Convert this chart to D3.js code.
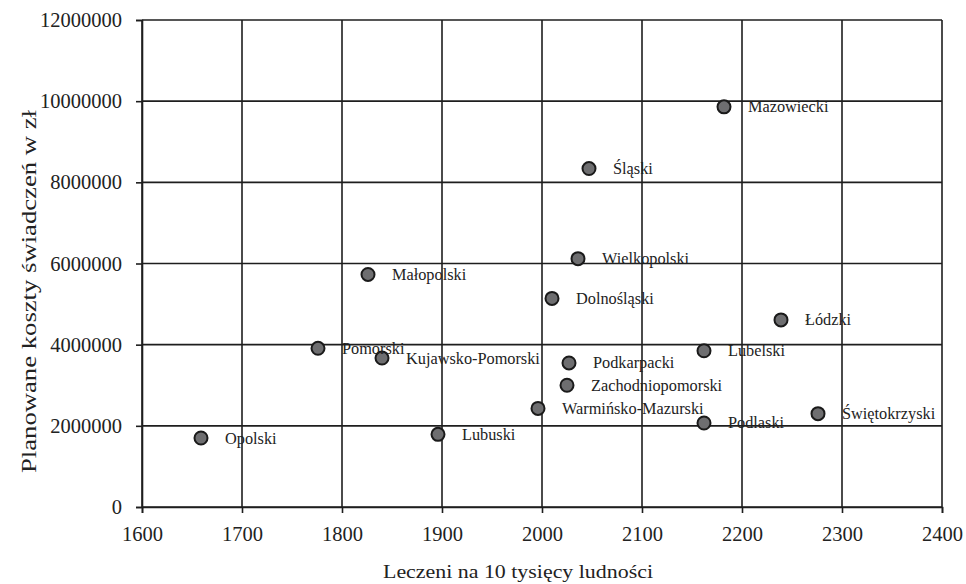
<!DOCTYPE html>
<html>
<head>
<meta charset="utf-8">
<script src="https://cdn.jsdelivr.net/npm/d3@7"></script>
<style>
  html, body { margin: 0; padding: 0; background: #fff; }
  svg { display: block; font-family: "Liberation Serif", "Times New Roman", serif; }
</style>
</head>
<body>
<svg id="chart" width="966" height="584"></svg>
<script>
const regions = ["Mazowiecki", "Śląski", "Wielkopolski", "Małopolski", "Dolnośląski", "Pomorski",
  "Kujawsko-Pomorski", "Podkarpacki", "Zachodniopomorski", "Warmińsko-Mazurski", "Lubuski",
  "Lubelski", "Podlaski", "Łódzki", "Świętokrzyski", "Opolski"];
const leczeni = [2182, 2047, 2036, 1826, 2010, 1776, 1840, 2027, 2025, 1996, 1896, 2162, 2162, 2239, 2276, 1659];
const koszty = [9860000, 8340000, 6120000, 5730000, 5140000, 3910000, 3670000, 3550000, 3000000, 2430000, 1790000, 3850000, 2070000, 4610000, 2300000, 1700000];
const xTicks = [1600, 1700, 1800, 1900, 2000, 2100, 2200, 2300, 2400];
const yTicks = [0, 2000000, 4000000, 6000000, 8000000, 10000000, 12000000];
const xTitle = "Leczeni na 10 tysięcy ludności";
const yTitle = "Planowane koszty świadczeń w zł";

const svg = d3.select("#chart");
const x = d3.scaleLinear().domain([1600, 2400]).range([142, 942]);
const y = d3.scaleLinear().domain([0, 12000000]).range([507, 20]);
const ink = "#1e1e1e";

// grid
const grid = svg.append("g");
grid.selectAll("line.v").data(xTicks).join("line")
  .attr("x1", d => x(d)).attr("x2", d => x(d))
  .attr("y1", y(12000000)).attr("y2", y(0))
  .attr("stroke", ink).attr("stroke-width", 1.6);
grid.selectAll("line.h").data(yTicks).join("line")
  .attr("x1", x(1600)).attr("x2", x(2400))
  .attr("y1", d => y(d)).attr("y2", d => y(d))
  .attr("stroke", ink).attr("stroke-width", 1.6);

// axes
const xAxis = svg.append("g").attr("transform", `translate(0,${y(0)})`)
  .call(d3.axisBottom(x).tickValues(xTicks).tickFormat(d3.format("d")).tickSize(6).tickPadding(13));
const yAxis = svg.append("g").attr("transform", `translate(${x(1600)},0)`)
  .call(d3.axisLeft(y).tickValues(yTicks).tickFormat(d3.format("d")).tickSize(6).tickPadding(14));
[xAxis, yAxis].forEach(a => {
  a.select(".domain").attr("stroke", ink).attr("stroke-width", 1.6);
  a.selectAll(".tick line").attr("stroke", ink).attr("stroke-width", 1.6);
  a.selectAll(".tick text").attr("fill", "#222").style("font-size", "20.5px")
    .style("font-family", "'Liberation Serif', serif");
});

// points
const data = regions.map((r, i) => ({ name: r, x: leczeni[i], y: koszty[i] }));
svg.append("g").selectAll("circle").data(data).join("circle")
  .attr("cx", d => x(d.x)).attr("cy", d => y(d.y)).attr("r", 6.5)
  .attr("fill", "#6e6e70").attr("stroke", "#1a1a1a").attr("stroke-width", 2);

svg.append("g").selectAll("text").data(data).join("text")
  .attr("x", d => x(d.x) + 24).attr("y", d => y(d.y) + 5.5)
  .attr("fill", "#222").style("font-size", "16.3px")
  .text(d => d.name);

// titles
svg.append("text").attr("x", 383).attr("y", 578)
  .attr("textLength", 270).attr("lengthAdjust", "spacingAndGlyphs")
  .attr("fill", "#222").style("font-size", "19.5px").text(xTitle);
svg.append("text").attr("transform", "translate(36,473) rotate(-90)")
  .attr("textLength", 363).attr("lengthAdjust", "spacingAndGlyphs")
  .attr("fill", "#222").style("font-size", "20px").text(yTitle);
</script>
</body>
</html>
